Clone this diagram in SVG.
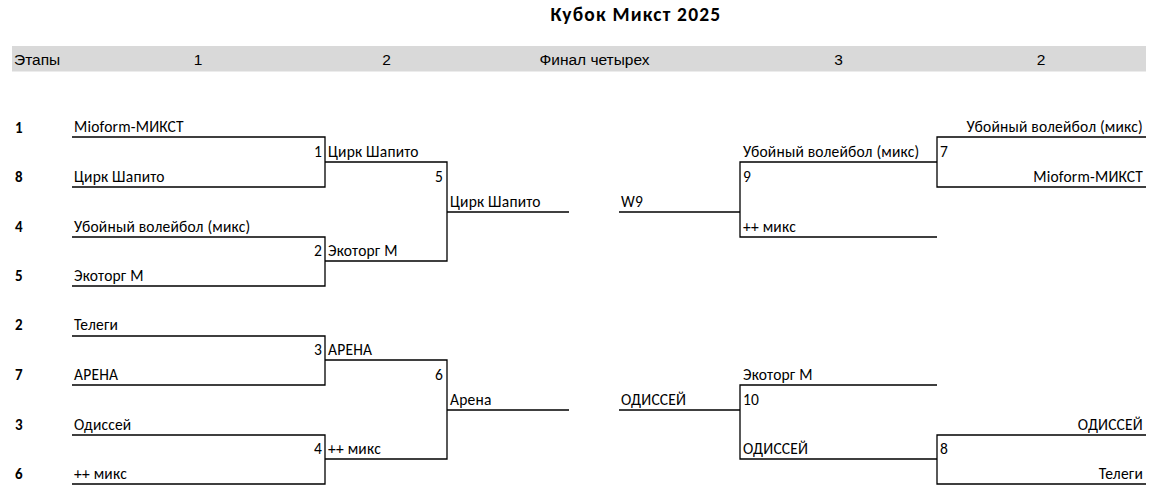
<svg xmlns="http://www.w3.org/2000/svg" width="1156" height="497" viewBox="0 0 1156 497">
<style>
  .t { font-family: Carlito, Lato, "Open Sans", sans-serif; font-size: 15.5px; letter-spacing: 0.2px; fill: #000; }
  .s { font-family: Carlito, Lato, "Open Sans", sans-serif; font-size: 15px; font-weight: bold; fill: #000; }
  .h { font-family: "Liberation Sans", Arial, sans-serif; font-size: 15.5px; fill: #000; }
  .title { font-family: Carlito, Lato, "Open Sans", sans-serif; font-size: 19.5px; letter-spacing: 1.2px; font-weight: bold; fill: #000; }
  .r { text-anchor: end; }
  .m { text-anchor: middle; }
  .ln { stroke: #000; stroke-width: 1.3; fill: none; }
</style>
<rect width="1156" height="497" fill="#fff"/>
<g id="title"><text class="title m" x="636" y="21">Кубок Микст 2025</text></g>
<g id="header">
  <rect x="12" y="46" width="1134" height="25.5" fill="#d9d9d9"/>
  <text class="h" x="14" y="65">Этапы</text>
  <text class="h m" x="198" y="65">1</text>
  <text class="h m" x="386.5" y="65">2</text>
  <text class="h m" x="594.5" y="65">Финал четырех</text>
  <text class="h m" x="838.5" y="65">3</text>
  <text class="h m" x="1041" y="65">2</text>
</g>
<g id="seeds">
  <text class="s" x="15" y="133">1</text>
  <text class="s" x="15" y="182">8</text>
  <text class="s" x="15" y="232">4</text>
  <text class="s" x="15" y="281">5</text>
  <text class="s" x="15" y="330">2</text>
  <text class="s" x="15" y="380">7</text>
  <text class="s" x="15" y="430">3</text>
  <text class="s" x="15" y="479">6</text>
</g>
<g id="round1-teams">
  <text class="t" x="74" y="132">Mioform-МИКСТ</text>
  <text class="t" x="74" y="182">Цирк Шапито</text>
  <text class="t" x="74" y="232">Убойный волейбол (микс)</text>
  <text class="t" x="74" y="281">Экоторг М</text>
  <text class="t" x="74" y="330">Телеги</text>
  <text class="t" x="74" y="380">АРЕНА</text>
  <text class="t" x="74" y="430">Одиссей</text>
  <text class="t" x="74" y="479">++ микс</text>
</g>
<g id="match1"><text class="t r" x="322" y="157">1</text><text class="t" x="328" y="157">Цирк Шапито</text></g>
<g id="match2"><text class="t r" x="322" y="256">2</text><text class="t" x="328" y="256">Экоторг М</text></g>
<g id="match3"><text class="t r" x="322" y="355">3</text><text class="t" x="328" y="355">АРЕНА</text></g>
<g id="match4"><text class="t r" x="322" y="454">4</text><text class="t" x="328" y="454">++ микс</text></g>
<g id="match5"><text class="t r" x="443" y="182">5</text><text class="t" x="450" y="207">Цирк Шапито</text></g>
<g id="match6"><text class="t r" x="443" y="380">6</text><text class="t" x="450" y="405">Арена</text></g>
<g id="match9">
  <text class="t" x="621" y="207">W9</text>
  <text class="t" x="743" y="157">Убойный волейбол (микс)</text>
  <text class="t" x="743" y="182">9</text>
  <text class="t" x="743" y="232">++ микс</text>
</g>
<g id="match10">
  <text class="t" x="621" y="405">ОДИССЕЙ</text>
  <text class="t" x="743" y="380">Экоторг М</text>
  <text class="t" x="743" y="405">10</text>
  <text class="t" x="743" y="454">ОДИССЕЙ</text>
</g>
<g id="match7">
  <text class="t r" x="1143" y="132">Убойный волейбол (микс)</text>
  <text class="t" x="940" y="157">7</text>
  <text class="t r" x="1143" y="182">Mioform-МИКСТ</text>
</g>
<g id="match8">
  <text class="t r" x="1143" y="430">ОДИССЕЙ</text>
  <text class="t" x="940" y="454">8</text>
  <text class="t r" x="1143" y="479">Телеги</text>
</g>
<g id="connectors" class="ln">
  <path class="ln" d="M72 137H325V187H72"/>
  <path class="ln" d="M72 237H325V286H72"/>
  <path class="ln" d="M72 336H325V385H72"/>
  <path class="ln" d="M72 435H325V484H72"/>
  <path class="ln" d="M325 162H447V261H325"/>
  <path class="ln" d="M325 360H447V459H325"/>
  <path class="ln" d="M447 212H569"/>
  <path class="ln" d="M447 410H569"/>
  <path class="ln" d="M619 212H740"/>
  <path class="ln" d="M937 162H740V237H937"/>
  <path class="ln" d="M619 410H740"/>
  <path class="ln" d="M937 385H740V459H937"/>
  <path class="ln" d="M1146 137H937V187H1146"/>
  <path class="ln" d="M1146 435H937V484H1146"/>
</g>
</svg>
